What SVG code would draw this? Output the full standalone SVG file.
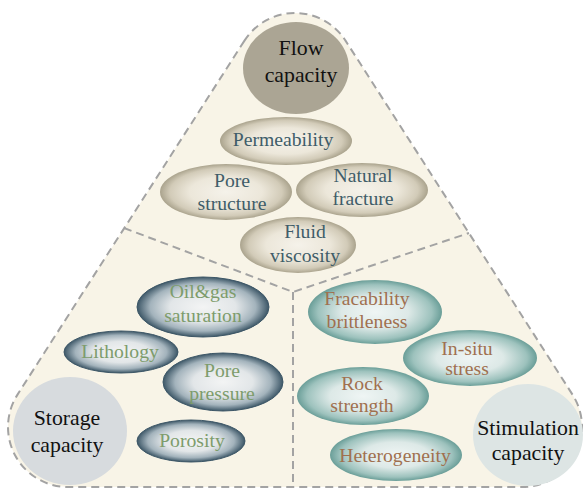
<svg xmlns="http://www.w3.org/2000/svg" width="584" height="491" viewBox="0 0 584 491">
<defs>
<radialGradient id="gFlow" cx="0.5" cy="0.5" r="0.5">
<stop offset="0" stop-color="#f5f2ea"/>
<stop offset="0.55" stop-color="#ece7da"/>
<stop offset="0.85" stop-color="#d2cbb8"/>
<stop offset="1" stop-color="#aaa38d"/>
</radialGradient>
<radialGradient id="gStor" cx="0.5" cy="0.5" r="0.5">
<stop offset="0" stop-color="#f3f4f4"/>
<stop offset="0.5" stop-color="#e2e6e8"/>
<stop offset="0.8" stop-color="#a3b3bc"/>
<stop offset="1" stop-color="#3d5767"/>
</radialGradient>
<radialGradient id="gStim" cx="0.5" cy="0.5" r="0.5">
<stop offset="0" stop-color="#eff5f4"/>
<stop offset="0.5" stop-color="#dde9e7"/>
<stop offset="0.85" stop-color="#9dc2bd"/>
<stop offset="1" stop-color="#6a9e98"/>
</radialGradient>
</defs>
<style>
.dash{fill:none;stroke:#a3a3a3;stroke-width:2;stroke-dasharray:8 5}
text{font-family:'Liberation Serif','DejaVu Serif',serif;text-anchor:middle}
.big{font-size:21.8px;fill:#111}
.sm{font-size:19.7px}
.fl{fill:#3f5d69}
.st{fill:#7d9c6c}
.sti{fill:#a0704f}
.ef{fill:url(#gFlow)}
.es{fill:url(#gStor);stroke:#3d5767;stroke-width:1}
.em{fill:url(#gStim)}
</style>
<path id="outline" d="M244.5,40.6 L17.5,394.6 A60,60 0 0 0 68,487 L522,487 A60,60 0 0 0 572.5,394.6 L345.5,40.6 A60,60 0 0 0 244.5,40.6 Z" fill="#f8f4e7" stroke="#a3a3a3" stroke-width="2" stroke-dasharray="8 5"/>
<g id="connectors">
<path class="dash" d="M124,228 L293,292 L469,233"/>
<path class="dash" d="M293,292 L293,487"/>
</g>
<g id="flow-capacity">
<ellipse cx="296" cy="68" rx="53" ry="46" fill="#aba594"/>
<text class="big" x="301" y="55">Flow</text>
<text class="big" x="301" y="82">capacity</text>
</g>
<g id="storage-capacity">
<ellipse cx="70" cy="431" rx="57" ry="54" fill="#d7dbde"/>
<text class="big" x="67" y="425">Storage</text>
<text class="big" x="67" y="452">capacity</text>
</g>
<g id="stimulation-capacity">
<ellipse cx="528" cy="435" rx="55" ry="51" fill="#dde5e4"/>
<text class="big" x="528" y="435">Stimulation</text>
<text class="big" x="528" y="460">capacity</text>
</g>
<g id="permeability">
<ellipse class="ef" cx="286" cy="141" rx="66" ry="24"/>
<text class="sm fl" x="283" y="146">Permeability</text>
</g>
<g id="pore-structure">
<ellipse class="ef" cx="226" cy="192" rx="66" ry="28"/>
<text class="sm fl" x="232" y="187">Pore</text>
<text class="sm fl" x="232" y="210">structure</text>
</g>
<g id="natural-fracture">
<ellipse class="ef" cx="362" cy="190" rx="66" ry="27"/>
<text class="sm fl" x="363" y="182">Natural</text>
<text class="sm fl" x="363" y="205">fracture</text>
</g>
<g id="fluid-viscosity">
<ellipse class="ef" cx="298" cy="245" rx="58" ry="28"/>
<text class="sm fl" x="305" y="238">Fluid</text>
<text class="sm fl" x="305" y="262">viscosity</text>
</g>
<g id="oil-gas-saturation">
<ellipse class="es" cx="203" cy="307" rx="66" ry="30"/>
<text class="sm st" x="203" y="298">Oil&amp;gas</text>
<text class="sm st" x="203" y="322">saturation</text>
</g>
<g id="lithology">
<ellipse class="es" cx="121" cy="352" rx="57" ry="21"/>
<text class="sm st" x="120" y="358">Lithology</text>
</g>
<g id="pore-pressure">
<ellipse class="es" cx="223" cy="382" rx="60" ry="29"/>
<text class="sm st" x="222" y="377">Pore</text>
<text class="sm st" x="222" y="400">pressure</text>
</g>
<g id="porosity">
<ellipse class="es" cx="191" cy="441" rx="54" ry="21"/>
<text class="sm st" x="192" y="447">Porosity</text>
</g>
<g id="fracability-brittleness">
<ellipse class="em" cx="375" cy="312" rx="67" ry="32"/>
<text class="sm sti" x="367" y="305">Fracability</text>
<text class="sm sti" x="367" y="328">brittleness</text>
</g>
<g id="in-situ-stress">
<ellipse class="em" cx="470" cy="358" rx="67" ry="28"/>
<text class="sm sti" x="467" y="355">In-situ</text>
<text class="sm sti" x="467" y="375">stress</text>
</g>
<g id="rock-strength">
<ellipse class="em" cx="363" cy="396" rx="66" ry="29"/>
<text class="sm sti" x="362" y="390">Rock</text>
<text class="sm sti" x="362" y="412">strength</text>
</g>
<g id="heterogeneity">
<ellipse class="em" cx="396" cy="455" rx="66" ry="26"/>
<text class="sm sti" x="395" y="462">Heterogeneity</text>
</g>
</svg>
